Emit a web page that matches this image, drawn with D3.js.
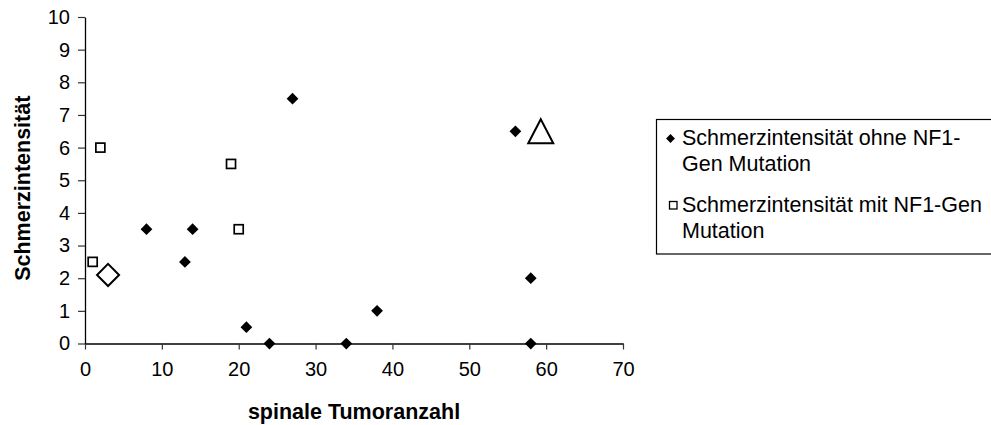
<!DOCTYPE html>
<html>
<head>
<meta charset="utf-8">
<script src="https://cdn.jsdelivr.net/npm/d3@7"></script>
<style>
  html, body { margin: 0; padding: 0; background: #fff; }
  svg { display: block; font-family: "Liberation Sans", Arial, sans-serif; }
</style>
</head>
<body>
<svg id="chart" width="991" height="425"></svg>
<script>
// Spinal tumour count vs. pain intensity
const xTicks = [0, 10, 20, 30, 40, 50, 60, 70];
const yTicks = [0, 1, 2, 3, 4, 5, 6, 7, 8, 9, 10];

// without NF1 gene mutation
const ohneX = [8, 13, 14, 21, 24, 27, 34, 38, 56, 58, 58];
const ohneY = [3.5, 2.5, 3.5, 0.5, 0, 7.5, 0, 1, 6.5, 2, 0];

// with NF1 gene mutation
const mitX = [1, 2, 19, 20];
const mitY = [2.5, 6, 5.5, 3.5];

// highlighted single markers
const diamondPoint = [3, 2.1];
const trianglePoint = [59.3, 6.5];

const legendLabels = [
  ["Schmerzintensität ohne NF1-", "Gen Mutation"],
  ["Schmerzintensität mit NF1-Gen", "Mutation"]
];
const xTitle = "spinale Tumoranzahl";
const yTitle = "Schmerzintensität";

const svg = d3.select("#chart");
const x = d3.scaleLinear().domain([0, 70]).range([85, 623]);
const y = d3.scaleLinear().domain([0, 10]).range([343.5, 17]);

// axes
const xAxis = svg.append("g").attr("transform", `translate(0,${y(0)})`)
  .call(d3.axisBottom(x).tickValues(xTicks).tickSize(6).tickPadding(12).tickSizeOuter(0));
const yAxis = svg.append("g").attr("transform", `translate(${x(0)},0)`)
  .call(d3.axisLeft(y).tickValues(yTicks).tickSize(7).tickPadding(8).tickSizeOuter(0));
[xAxis, yAxis].forEach(g => {
  g.select(".domain").attr("stroke", "#000").attr("stroke-width", 1.3);
  g.selectAll(".tick line").attr("stroke", "#333").attr("stroke-width", 1.2);
  g.selectAll(".tick text").attr("fill", "#000").style("font-size", "20px")
    .style("font-family", "'Liberation Sans', Arial, sans-serif");
});

// axis titles
svg.append("text").attr("x", (x(0) + x(70)) / 2).attr("y", 419)
  .attr("text-anchor", "middle").style("font-size", "21.5px").style("font-weight", "bold")
  .text(xTitle);
svg.append("text").attr("transform", `translate(30,${(y(0) + y(10)) / 2 + 8}) rotate(-90)`)
  .attr("text-anchor", "middle").style("font-size", "21.5px").style("font-weight", "bold")
  .text(yTitle);

// markers
const diamond = d3.symbol().type(d3.symbolDiamond2);
const ohne = d3.zip(ohneX, ohneY);
svg.append("g").selectAll("path").data(ohne).join("path")
  .attr("transform", d => `translate(${x(d[0])},${y(d[1])})`)
  .attr("d", diamond.size(88)())
  .attr("fill", "#000");

const mit = d3.zip(mitX, mitY);
svg.append("g").selectAll("rect").data(mit).join("rect")
  .attr("x", d => x(d[0]) - 4.5).attr("y", d => y(d[1]) - 4.5)
  .attr("width", 9).attr("height", 9)
  .attr("fill", "#fff").attr("stroke", "#000").attr("stroke-width", 1.7);

// large open diamond
svg.append("path")
  .attr("transform", `translate(${x(diamondPoint[0])},${y(diamondPoint[1])})`)
  .attr("d", d3.symbol().type(d3.symbolDiamond2).size(310)())
  .attr("fill", "#fff").attr("stroke", "#000").attr("stroke-width", 2);

// large open triangle
{
  const cx = x(trianglePoint[0]), cy = y(trianglePoint[1]);
  const w = 25, h = 24;
  svg.append("path")
    .attr("d", `M${cx},${cy - h / 2}L${cx + w / 2},${cy + h / 2}L${cx - w / 2},${cy + h / 2}Z`)
    .attr("fill", "#fff").attr("stroke", "#000").attr("stroke-width", 2).attr("stroke-linejoin", "miter");
}

// legend
const lg = svg.append("g");
lg.append("rect").attr("x", 656.5).attr("y", 119.5).attr("width", 340).attr("height", 134.5)
  .attr("fill", "#fff").attr("stroke", "#000").attr("stroke-width", 1.2);
const rows = [145, 212];
legendLabels.forEach((lines, i) => {
  const t = lg.append("text").attr("x", 682).attr("y", rows[i]).style("font-size", "21.5px");
  lines.forEach((ln, j) => t.append("tspan").attr("x", 682).attr("dy", j === 0 ? 0 : 25.5).text(ln));
});
lg.append("path").attr("transform", `translate(670.5,${rows[0] - 6.5})`)
  .attr("d", d3.symbol().type(d3.symbolDiamond2).size(50)()).attr("fill", "#000");
lg.append("rect").attr("x", 669.5).attr("y", rows[1] - 10.5).attr("width", 7.5).attr("height", 7.5)
  .attr("fill", "#fff").attr("stroke", "#000").attr("stroke-width", 1.3);
</script>
</body>
</html>
